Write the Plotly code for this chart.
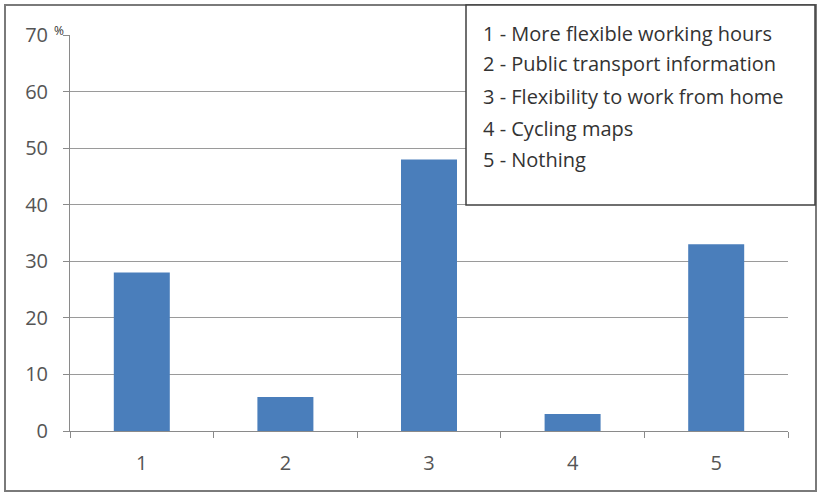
import plotly.graph_objects as go

# Survey results: share of respondents (%) per option
categories = ["1", "2", "3", "4", "5"]
values = [28, 6, 48, 3, 33]
legend_lines = [
    "1 - More flexible working hours",
    "2 - Public transport information",
    "3 - Flexibility to work from home",
    "4 - Cycling maps",
    "5 - Nothing",
]
y_ticks = [0, 10, 20, 30, 40, 50, 60, 70]

W, H = 820, 496
L, R, T, B = 70, 788, 35, 431  # plot area in pixels


def px_x(x):
    return (x - L) / (R - L)


def px_y(y):
    return (B - y) / (B - T)


FONT = "Open Sans, Lato, sans-serif"
AXIS_GREY = "#8a8a8a"
TEXT_GREY = "#555555"

fig = go.Figure(
    go.Bar(
        x=categories,
        y=values,
        marker=dict(color="#4a7ebb", line=dict(width=0)),
        width=0.39,
        hoverinfo="skip",
    )
)

fig.update_layout(
    width=W,
    height=H,
    margin=dict(l=L, r=W - R, t=T, b=H - B),
    paper_bgcolor="white",
    plot_bgcolor="white",
    showlegend=False,
    font=dict(family=FONT, color=TEXT_GREY, size=20),
)

fig.update_xaxes(
    type="category",
    showgrid=False,
    showline=True,
    linecolor=AXIS_GREY,
    linewidth=1,
    ticks="outside",
    tickson="boundaries",
    ticklen=6,
    tickcolor=AXIS_GREY,
    ticklabelstandoff=14,
    tickfont=dict(size=20, color=TEXT_GREY),
    zeroline=False,
)
fig.update_yaxes(
    range=[0, 70],
    tickvals=y_ticks,
    showgrid=True,
    gridcolor="#9a9a9a",
    gridwidth=1,
    showline=True,
    linecolor=AXIS_GREY,
    linewidth=1,
    ticks="outside",
    ticklen=6,
    tickcolor=AXIS_GREY,
    ticklabelstandoff=11,
    tickfont=dict(size=20, color=TEXT_GREY),
    zeroline=False,
)

shapes = [
    # chart frame
    dict(
        type="rect", xref="paper", yref="paper",
        x0=px_x(5), x1=px_x(816), y0=px_y(491), y1=px_y(5),
        line=dict(color="#7a7a7a", width=2), fillcolor="rgba(0,0,0,0)",
        layer="above",
    ),
    # legend box
    dict(
        type="rect", xref="paper", yref="paper",
        x0=px_x(466), x1=px_x(815), y0=px_y(205), y1=px_y(5),
        line=dict(color="#404040", width=1.5), fillcolor="white",
        layer="above",
    ),
]

annotations = [
    dict(
        text="%", xref="paper", yref="paper",
        x=px_x(52), y=px_y(30), xanchor="left", yanchor="middle",
        showarrow=False, font=dict(size=12, color="#333333", family=FONT),
    )
]
line_y = [33, 64, 96, 128, 159]
for txt, yy in zip(legend_lines, line_y):
    annotations.append(
        dict(
            text=txt, xref="paper", yref="paper",
            x=px_x(481), y=px_y(yy), xanchor="left", yanchor="middle",
            showarrow=False, font=dict(size=20, color="#333333", family=FONT),
        )
    )

fig.update_layout(shapes=shapes, annotations=annotations)

fig.write_html("out.html")
